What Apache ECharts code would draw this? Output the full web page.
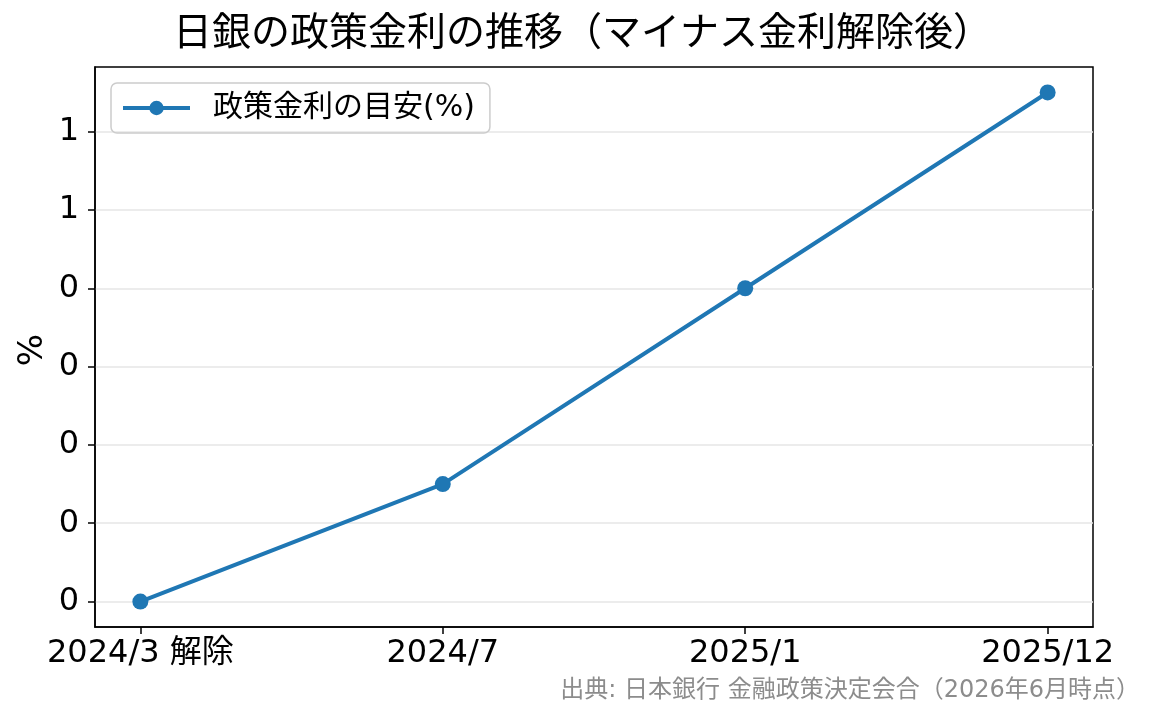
<!DOCTYPE html>
<html>
<head>
<meta charset="utf-8">
<script src="https://cdn.jsdelivr.net/npm/echarts@6/dist/echarts.min.js"></script>
<style>
  html, body { margin: 0; padding: 0; background: #fff; }
  #main { width: 1165px; height: 725px; }
</style>
</head>
<body>
<div id="main"></div>
<script>
// 日銀の政策金利（マイナス金利解除後）
const categories = ['2024/3 解除', '2024/7', '2025/1', '2025/12'];
const rateValues = [0.1, 0.25, 0.5, 0.75];
const yTickValues = [0.1, 0.2, 0.3, 0.4, 0.5, 0.6, 0.7];
const yTickLabels = ['0', '0', '0', '0', '0', '1', '1'];

const FONT = '"DejaVu Sans", "Noto Sans CJK JP", sans-serif';
const CJK = '"Noto Sans CJK JP", sans-serif';

const chart = echarts.init(document.getElementById('main'), null, { renderer: 'canvas' });

const option = {
  animation: false,
  backgroundColor: '#fff',
  title: {
    text: '日銀の政策金利の推移（マイナス金利解除後）',
    left: 'center',
    top: 6,
    textStyle: { fontFamily: CJK, fontSize: 39, fontWeight: 'normal', color: '#000' }
  },
  legend: {
    data: ['政策金利の目安(%)'],
    left: 111,
    top: 83,
    padding: [10, 15, 10, 10],
    itemWidth: 67,
    itemHeight: 18,
    borderColor: '#cccccc',
    borderWidth: 1.5,
    borderRadius: 6,
    lineStyle: { width: 4 },
    textStyle: { fontFamily: FONT, fontSize: 30, color: '#000', padding: [0, 0, 0, 18] }
  },
  grid: {
    left: 95, right: 72, top: 67, bottom: 98,
    containLabel: false,
    outerBoundsMode: 'none',
    show: true,
    borderColor: '#000',
    borderWidth: 1.5
  },
  xAxis: {
    type: 'value',
    min: -0.15,
    max: 3.15,
    splitLine: { show: false },
    axisLine: { show: true, onZero: false, lineStyle: { color: '#000', width: 1.5 } },
    axisTick: { show: true, length: 7, lineStyle: { color: '#000', width: 1.5 }, customValues: [0, 1, 2, 3] },
    axisLabel: {
      customValues: [0, 1, 2, 3],
      formatter: v => categories[Math.round(v)],
      fontFamily: FONT, fontSize: 32, color: '#000', margin: 11
    }
  },
  yAxis: {
    type: 'value',
    min: 0.0675,
    max: 0.7825,
    axisLine: { show: true, onZero: false, lineStyle: { color: '#000', width: 1.5 } },
    axisTick: { show: true, length: 7, lineStyle: { color: '#000', width: 1.5 }, customValues: yTickValues },
    splitLine: { show: true, lineStyle: { color: '#e6e6e6', width: 1.5 } },
    axisLabel: {
      customValues: yTickValues,
      formatter: v => yTickLabels[yTickValues.findIndex(t => Math.abs(t - v) < 1e-6)],
      fontFamily: FONT, fontSize: 32, color: '#000', margin: 16
    }
  },
  series: [{
    name: '政策金利の目安(%)',
    type: 'line',
    data: rateValues.map((v, i) => [i, v]),
    symbol: 'circle',
    symbolSize: 16,
    itemStyle: { color: '#1f77b4' },
    lineStyle: { color: '#1f77b4', width: 4 }
  }],
  graphic: [{
    // y軸の名前
    type: 'text',
    x: 33,
    y: 350,
    rotation: Math.PI / 2,
    style: {
      text: '%',
      font: '34px ' + FONT,
      fill: '#000',
      align: 'center',
      verticalAlign: 'middle'
    }
  }, {
    type: 'text',
    right: 25,
    top: 679,
    style: {
      text: '出典: 日本銀行 金融政策決定会合（2026年6月時点）',
      font: '24px ' + FONT,
      fill: '#8c8c8c'
    }
  }]
};

chart.setOption(option);
</script>
</body>
</html>
